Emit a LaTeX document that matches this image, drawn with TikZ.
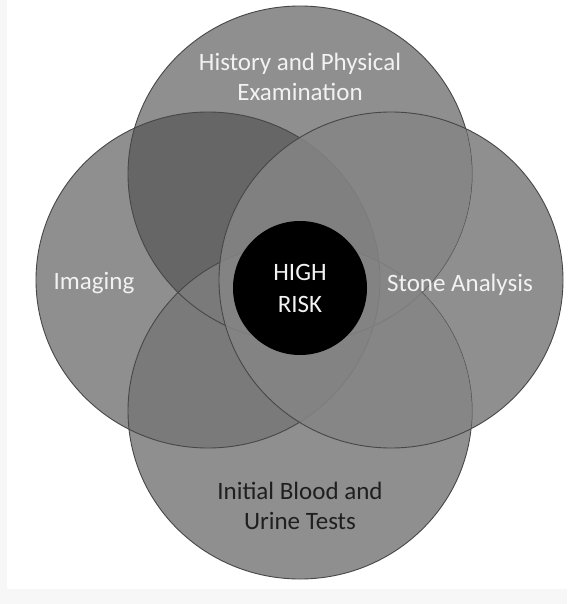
\documentclass[tikz,border=0pt]{standalone}
\usepackage{fontspec}
\setmainfont{Carlito}
\usetikzlibrary{positioning}

\definecolor{single}{gray}{0.56}
\definecolor{lensdark}{gray}{0.40}
\definecolor{lensmid}{gray}{0.48}
\definecolor{overlap}{gray}{0.52}

\begin{document}
\begin{tikzpicture}[
        x=1pt, y=-1pt,
        label/.style={font=\fontsize{25}{30}\selectfont, text=white!95!black, align=center, inner sep=0pt},
        darklabel/.style={label, text=black!88},
        ring/.style={draw=black!72, line width=0.9pt},
        core/.style={circle, fill=black, minimum size=134pt, inner sep=0pt, font=\fontsize{25}{32}\selectfont, text=white!95!black, align=center}
        ]

        \def\toppath{(300,174) ellipse [x radius=172, y radius=168]}
        \def\leftpath{(208,280) ellipse [x radius=172, y radius=168]}
        \def\rightpath{(391,280) ellipse [x radius=172, y radius=168]}
        \def\bottompath{(300,411) ellipse [x radius=172, y radius=168]}

        % Background
        \fill[black!3] (0,0) rectangle (567,604);
        \fill[white] (7,0) rectangle (567,589);

        % Circles
        \fill[single] \toppath;
        \fill[single] \leftpath;
        \fill[single] \bottompath;
        \fill[single] \rightpath;

        % Overlaps
        \begin{scope}
            \clip \toppath;
            \fill[lensdark] \leftpath;
        \end{scope}
        \begin{scope}
            \clip \leftpath;
            \fill[lensmid] \bottompath;
        \end{scope}
        \draw[ring] \toppath;
        \draw[ring] \leftpath;
        \draw[ring] \bottompath;
        \begin{scope}
            \clip \rightpath;
            \fill[overlap, fill opacity=0.85] \toppath \leftpath \bottompath;
        \end{scope}
        \draw[ring] \rightpath;

        % Centre
        \node[core] (risk) at (300,288) {HIGH\\RISK};

        % Labels
        \node[label] (history) at (300,77) {History and Physical\\Examination};
        \node[label] (imaging) at (94,283) {Imaging};
        \node[label] (stone) at (460,285) {Stone Analysis};
        \node[darklabel] (tests) at (300,506) {Initial Blood and\\Urine Tests};

    \end{tikzpicture}
\end{document}
